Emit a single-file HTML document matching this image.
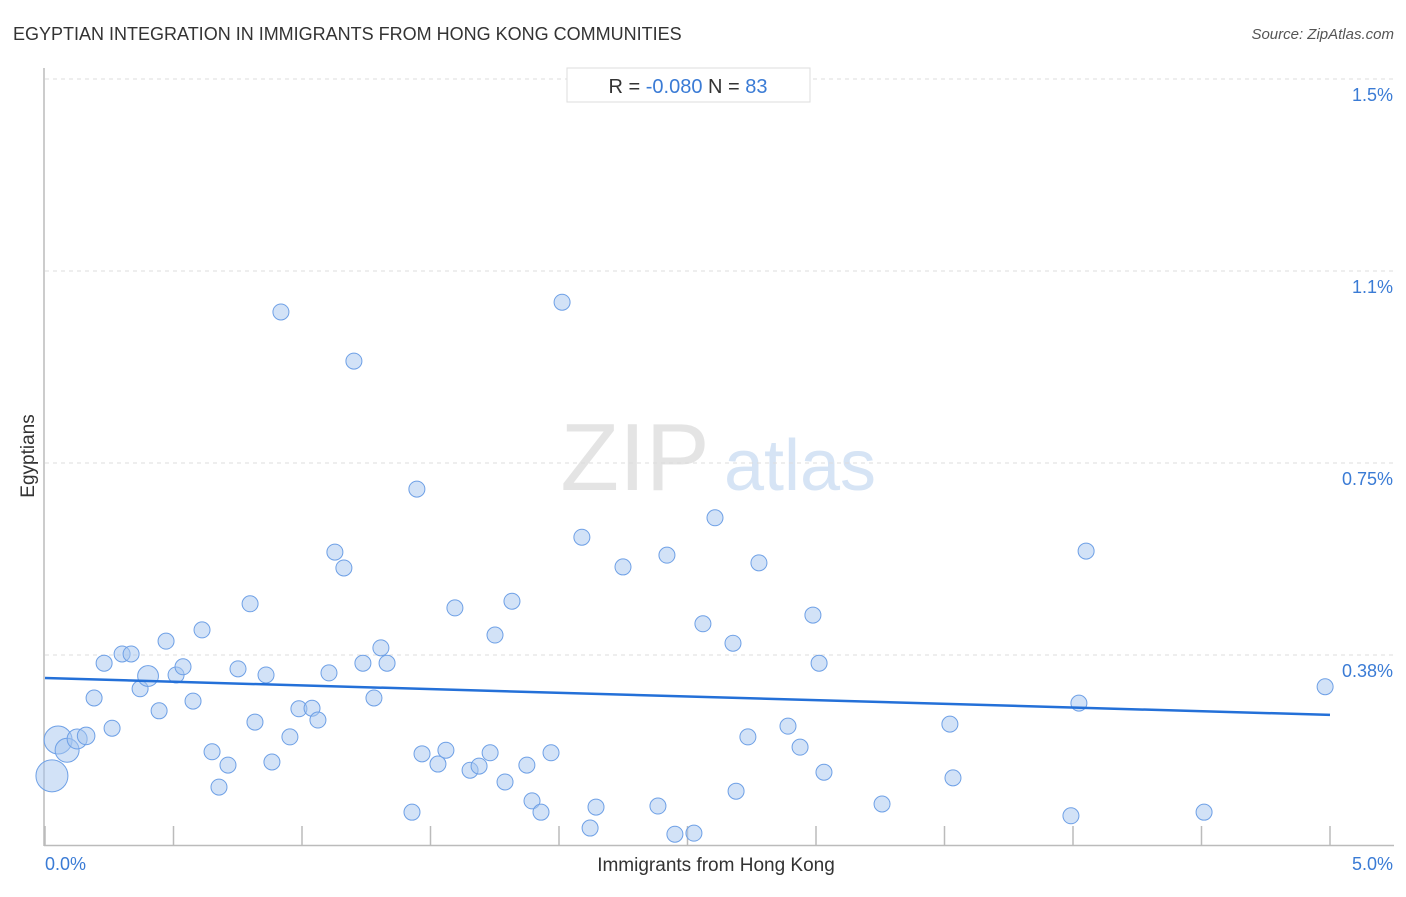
<!DOCTYPE html>
<html><head><meta charset="utf-8"><style>
body{margin:0;background:#fff;font-family:"Liberation Sans",sans-serif;}
svg text{font-family:"Liberation Sans",sans-serif;}
</style></head><body>
<svg id="chart" width="1406" height="892" xmlns="http://www.w3.org/2000/svg">
<text x="13" y="40" font-size="18" fill="#333">EGYPTIAN INTEGRATION IN IMMIGRANTS FROM HONG KONG COMMUNITIES</text>
<text x="1394" y="39" font-size="15" fill="#555" font-style="italic" text-anchor="end">Source: ZipAtlas.com</text>
<g>
<text x="635" y="490" font-size="96" fill="#e4e4e4" font-family="Liberation Serif" text-anchor="middle">ZIP</text>
<text x="800" y="490" font-size="72" fill="#d6e4f5" text-anchor="middle">atlas</text>
</g>
<g id="grid"></g>
<g id="axes"></g>
<g id="points"></g>
<g id="trend"></g>
<g>
<rect x="567" y="68" width="243" height="34" fill="#fff" stroke="#ddd"/>
<text x="688" y="93" font-size="20" text-anchor="middle"><tspan fill="#333">R = </tspan><tspan fill="#3a7bd5">-0.080</tspan><tspan fill="#333">    N = </tspan><tspan fill="#3a7bd5">83</tspan></text>
</g>
<text x="716" y="871" font-size="19" fill="#333" text-anchor="middle">Immigrants from Hong Kong</text>
<text transform="translate(34,456) rotate(-90)" font-size="19" fill="#333" text-anchor="middle">Egyptians</text>
</svg>
<script>
const xVals=[0.027,0.051,0.086,0.125,0.160,0.191,0.230,0.261,0.300,0.335,0.370,0.401,0.444,0.471,0.510,0.537,0.576,0.611,0.650,0.677,0.712,0.751,0.798,0.817,0.860,0.883,0.918,0.953,0.988,1.039,1.062,1.105,1.128,1.163,1.202,1.237,1.280,1.307,1.331,1.428,1.447,1.467,1.529,1.560,1.595,1.654,1.689,1.732,1.751,1.790,1.817,1.875,1.895,1.930,1.969,2.012,2.089,2.121,2.144,2.249,2.385,2.420,2.451,2.525,2.560,2.607,2.677,2.689,2.735,2.778,2.891,2.938,2.988,3.012,3.031,3.257,3.521,3.533,3.992,4.023,4.051,4.510,4.981];
const yVals=[0.139,0.209,0.189,0.211,0.217,0.291,0.359,0.232,0.377,0.377,0.309,0.334,0.266,0.402,0.336,0.352,0.285,0.424,0.186,0.117,0.160,0.348,0.475,0.244,0.336,0.166,1.045,0.215,0.270,0.271,0.248,0.340,0.576,0.545,0.949,0.359,0.291,0.389,0.359,0.068,0.699,0.182,0.162,0.189,0.467,0.150,0.158,0.184,0.414,0.127,0.480,0.160,0.090,0.068,0.184,1.064,0.605,0.037,0.078,0.547,0.080,0.570,0.025,0.027,0.436,0.643,0.398,0.109,0.215,0.555,0.236,0.195,0.453,0.359,0.146,0.084,0.240,0.135,0.061,0.281,0.578,0.068,0.313];
const weights=[4,3.5,3,2.5,2.2,2,2,2,2,2,2,2.6,2,2,2,2,2,2,2,2,2,2,2,2,2,2,2,2,2,2,2,2,2,2,2,2,2,2,2,2,2,2,2,2,2,2,2,2,2,2,2,2,2,2,2,2,2,2,2,2,2,2,2,2,2,2,2,2,2,2,2,2,2,2,2,2,2,2,2,2,2,2,2];
const yTicks=[0.375,0.75,1.125,1.5];
const yTickLabels=["0.38%","0.75%","1.1%","1.5%"];
const xTickVals=[0,0.5,1,1.5,2,2.5,3,3.5,4,4.5,5];
const trendStart=[0,0.330];
const trendEnd=[5,0.258];
const X=v=>45+v*257;
const Y=v=>847-v*512;
const NS="http://www.w3.org/2000/svg";
function mk(tag,attrs,parent){const e=document.createElementNS(NS,tag);for(const k in attrs)e.setAttribute(k,attrs[k]);parent.appendChild(e);return e;}
const grid=document.getElementById('grid'),axes=document.getElementById('axes'),pts=document.getElementById('points'),tr=document.getElementById('trend');
yTicks.forEach((t,i)=>{
 const l=mk('line',{x1:45,x2:1394,y1:Y(t),y2:Y(t),stroke:'#ddd','stroke-dasharray':'4,4'},grid);
 
 
 const tx=mk('text',{x:1393,y:Y(t)+22,'font-size':18,fill:'#3a7bd5','text-anchor':'end'},grid);
 tx.textContent=yTickLabels[i];
 
 
});
const ya=mk('line',{x1:44,x2:44,y1:68,y2:846,stroke:'#bbb','stroke-width':1.5},axes);


const xa=mk('line',{x1:44,x2:1394,y1:845.5,y2:845.5,stroke:'#bbb','stroke-width':1.5},axes);


xTickVals.forEach(t=>{
 const l=mk('line',{x1:X(t),x2:X(t),y1:826,y2:845,stroke:'#bbb','stroke-width':1.5},axes);
 
 
});
const xl0=mk('text',{x:45,y:870,'font-size':18,fill:'#3a7bd5'},axes);xl0.textContent='0.0%';


const xl1=mk('text',{x:1393,y:870,'font-size':18,fill:'#3a7bd5','text-anchor':'end'},axes);xl1.textContent='5.0%';


xVals.forEach((v,i)=>{
 const c=mk('circle',{cx:X(v),cy:Y(yVals[i]),r:weights[i]*4,fill:'rgba(165,198,240,0.5)',stroke:'#6ea0e6','stroke-width':1},pts);
 
 
});
const tl=mk('line',{x1:X(trendStart[0]),y1:Y(trendStart[1]),x2:X(trendEnd[0]),y2:Y(trendEnd[1]),stroke:'#2470d8','stroke-width':2.5},tr);


</script>
</body></html>
